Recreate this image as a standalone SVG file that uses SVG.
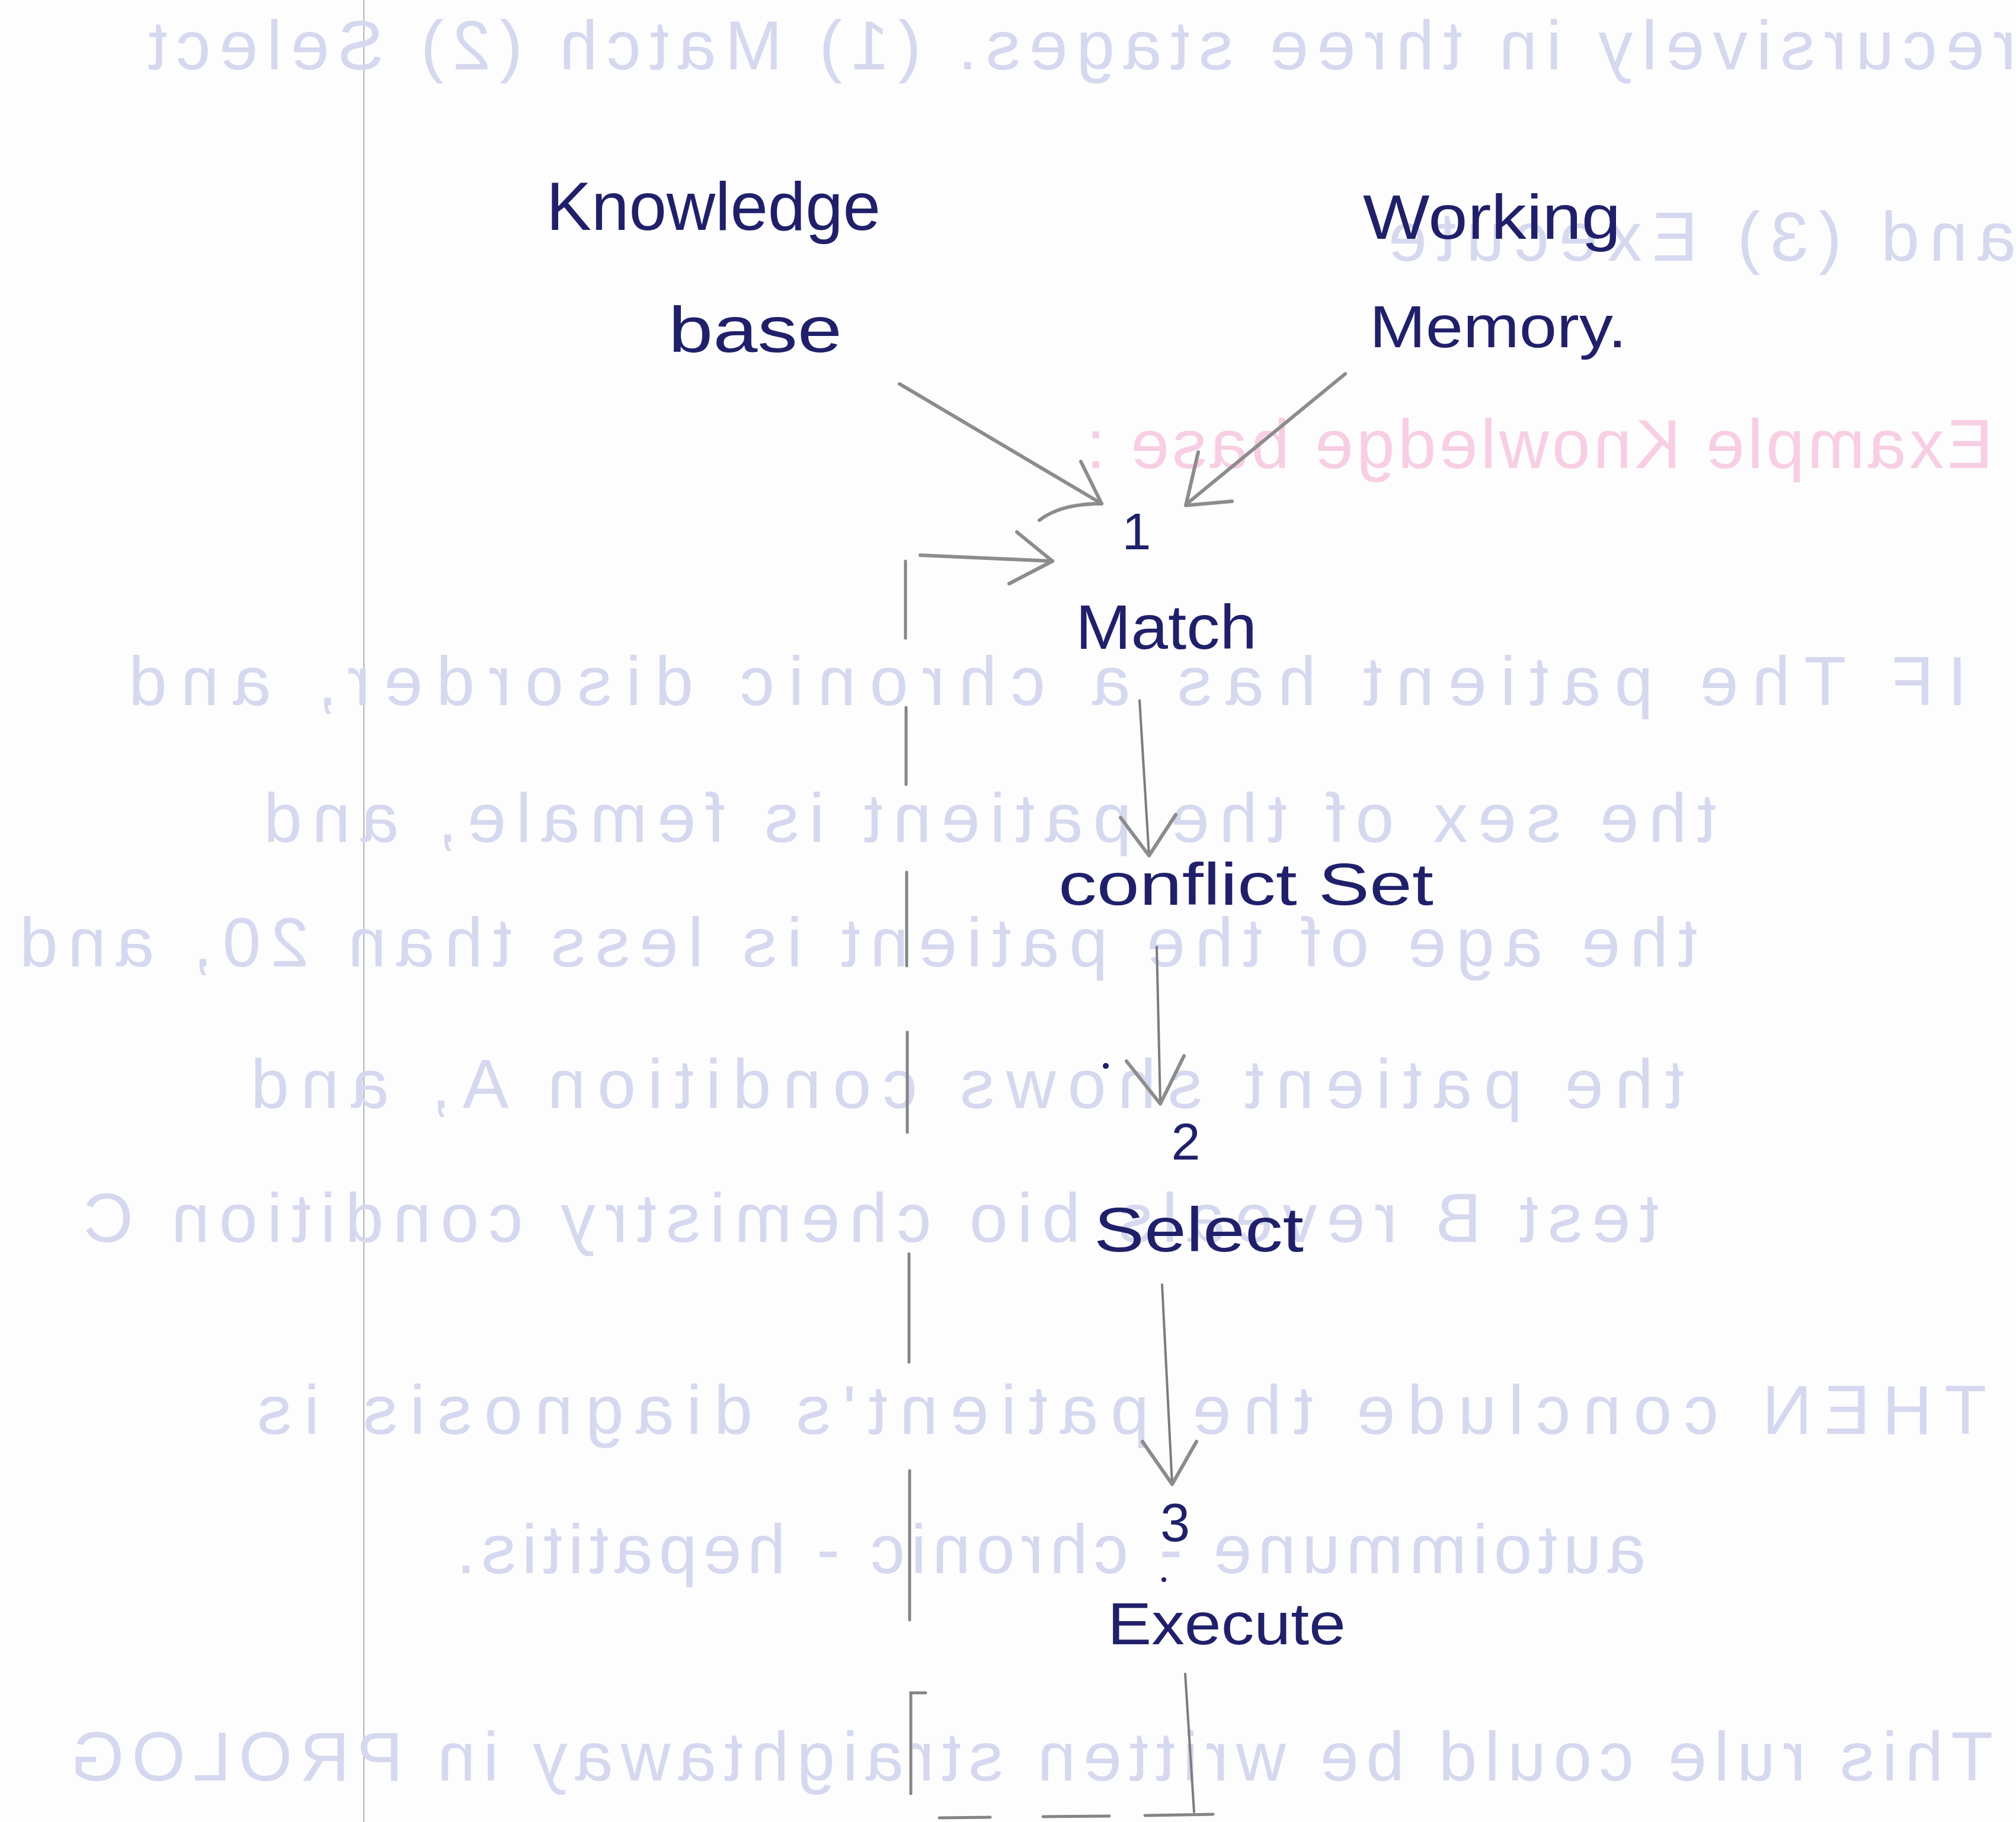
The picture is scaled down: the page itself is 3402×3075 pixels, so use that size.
<svg xmlns="http://www.w3.org/2000/svg" width="3402" height="3075" viewBox="0 0 3402 3075">
<style>
.hw{font-family:"Liberation Sans","DejaVu Sans",sans-serif;fill:#20206a;}
.num{font-family:"Liberation Sans","DejaVu Sans",sans-serif;fill:#20206a;text-anchor:middle;}
.bleed{font-family:"Liberation Sans","DejaVu Sans",sans-serif;fill:#d5d8ee;font-size:116px;}
.pink{fill:#f8cee4;}
.pen{fill:none;stroke:#8c8c8c;stroke-width:6;stroke-linecap:round;stroke-linejoin:round;}
.thin{fill:none;stroke:#7c7c7c;stroke-width:4;stroke-linecap:round;stroke-linejoin:round;}
.dash{fill:none;stroke:#858585;stroke-width:5;stroke-linecap:round;}
</style>
<rect x="0" y="0" width="3402" height="3075" fill="#fdfdfe"/>
<line x1="614" y1="0" x2="614" y2="3075" stroke="#b3b3b3" stroke-width="2"/>
<g id="bleed-through" transform="translate(3402,0) scale(-1,1)">
<text class="bleed" x="0" y="117" textLength="3152" lengthAdjust="spacing">recursively  in  three  stages. (1) Match  (2) Select</text>
<text class="bleed" x="0" y="440" textLength="1059" lengthAdjust="spacing">and  (3)  Execute</text>
<text class="bleed pink" x="39" y="790" textLength="1530" lengthAdjust="spacing">Example  Knowledge base :</text>
<text class="bleed" x="83" y="1190" textLength="3102" lengthAdjust="spacing">IF    The  patient  has  a  chronic  disorder, and</text>
<text class="bleed" x="506" y="1421" textLength="2451" lengthAdjust="spacing">the sex of  the patient  is female, and</text>
<text class="bleed" x="538" y="1631" textLength="2831" lengthAdjust="spacing">the age  of  the  patient  is less than 20, and</text>
<text class="bleed" x="560" y="1870" textLength="2419" lengthAdjust="spacing">the  patient  shows  condition A, and</text>
<text class="bleed" x="603" y="2096" textLength="2658" lengthAdjust="spacing">test  B  reveals  bio chemistry  condition C</text>
<text class="bleed" x="50" y="2420" textLength="2918" lengthAdjust="spacing">THEN    conclude  the  patient's  diagnosis  is</text>
<text class="bleed" x="625" y="2655" textLength="2007" lengthAdjust="spacing">autoimmune - chronic - hepatitis.</text>
<text class="bleed" x="39" y="3005" textLength="3244" lengthAdjust="spacing">This rule  could  be  written  straightaway  in  PROLOG</text>
</g>
<g id="connectors">
<path class="pen" d="M1518,648 L1859,850"/>
<path class="pen" d="M1824,779 L1859,850 M1754,878 Q1790,850 1859,850"/>
<path class="pen" d="M2270,631 L2003,850"/>
<path class="pen" d="M2022,763 L2001,853 L2079,846"/>
<path class="pen" d="M1553,937 L1776,947"/>
<path class="pen" d="M1716,898 L1776,947 L1703,985"/>
<path class="thin" d="M1923,1182 L1939,1444"/>
<path class="pen" d="M1891,1380 L1939,1444 L1984,1375"/>
<path class="thin" d="M1952,1598 L1958,1863"/>
<path class="pen" d="M1901,1791 L1958,1863 L1998,1782"/>
<path class="thin" d="M1961,2168 L1978,2505"/>
<path class="pen" d="M1928,2433 L1978,2505 L2019,2433"/>
<path class="thin" d="M2000,2825 L2015,3058"/>
<path class="dash" d="M2047,3062 L1932,3064 M1872,3065 L1760,3066 M1671,3067 L1585,3068"/>
<path class="dash" d="M1537,3027 L1537,2857 L1562,2857 M1535,2734 L1535,2482 M1534,2299 L1534,2116 M1531,1911 L1531,1742 M1530,1630 L1530,1472 M1529,1324 L1529,1194 M1528,1077 L1528,947"/>
</g>
<g id="node-knowledge-base">
<text class="hw" x="922" y="388" font-size="115" textLength="564" lengthAdjust="spacingAndGlyphs">Knowledge</text>
<text class="hw" x="1128" y="594" font-size="110" textLength="293" lengthAdjust="spacingAndGlyphs">base</text>
</g>
<g id="node-working-memory">
<text class="hw" x="2300" y="403" font-size="105" textLength="435" lengthAdjust="spacingAndGlyphs">Working</text>
<text class="hw" x="2311" y="586" font-size="100" textLength="434" lengthAdjust="spacingAndGlyphs">Memory.</text>
</g>
<g id="node-match">
<text class="num" x="1918" y="927" font-size="88">1</text>
<text class="hw" x="1815" y="1095" font-size="105" textLength="306" lengthAdjust="spacingAndGlyphs">Match</text>
</g>
<g id="node-conflict-set">
<text class="hw" x="1786" y="1527" font-size="100" textLength="633" lengthAdjust="spacingAndGlyphs">conflict Set</text>
</g>
<g id="node-select">
<text class="num" x="2001" y="1957" font-size="88">2</text>
<text class="hw" x="1846" y="2112" font-size="105" textLength="354" lengthAdjust="spacingAndGlyphs">Select</text>
</g>
<g id="node-execute">
<text class="num" x="1983" y="2601" font-size="90">3</text>
<text class="hw" x="1869" y="2775" font-size="100" textLength="402" lengthAdjust="spacingAndGlyphs">Execute</text>
</g>
<circle cx="1866" cy="1799" r="5" fill="#20206a"/>
<circle cx="1964" cy="2666" r="4" fill="#20206a"/>
</svg>
